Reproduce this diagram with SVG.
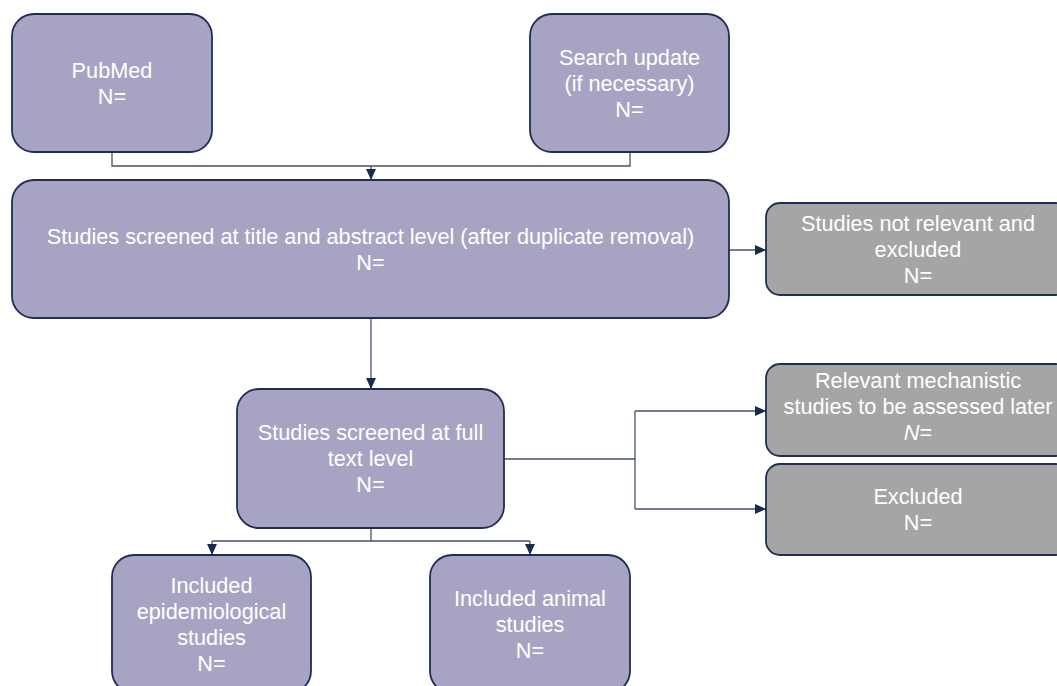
<svg xmlns="http://www.w3.org/2000/svg" width="1057" height="686" viewBox="0 0 1057 686">
<style>
.box{fill:#a7a4c3;stroke:#1f2e55;stroke-width:1.8}
.grey{fill:#a5a5a5;stroke:#1f2e55;stroke-width:1.8}
text{font-family:"Liberation Sans",Arial,sans-serif;font-size:21.7px;fill:#ffffff;text-anchor:middle}
.conn{fill:none;stroke:#44546a;stroke-width:1.3}
</style>
<defs>
<marker id="arr" markerUnits="userSpaceOnUse" markerWidth="11" markerHeight="11" viewBox="0 0 10 10" refX="10" refY="5" orient="auto">
<path d="M0,0.5 L10,5 L0,9.5 Z" fill="#1a2a4f"/>
</marker>
</defs>
<rect width="1057" height="686" fill="#ffffff"/>
<g id="connectors">
<polyline class="conn" points="112,152 112,166 630,166 630,152"/>
<line class="conn" x1="371" y1="166" x2="371" y2="180" marker-end="url(#arr)"/>
<line class="conn" x1="729" y1="250" x2="766" y2="250" marker-end="url(#arr)"/>
<line class="conn" x1="371" y1="318" x2="371" y2="389" marker-end="url(#arr)"/>
<polyline class="conn" points="504,459 635,459"/>
<polyline class="conn" points="635,411 635,509"/>
<line class="conn" x1="635" y1="411" x2="766" y2="411" marker-end="url(#arr)"/>
<line class="conn" x1="635" y1="509" x2="766" y2="509" marker-end="url(#arr)"/>
<polyline class="conn" points="371,528 371,541"/>
<polyline class="conn" points="212,541 530,541"/>
<line class="conn" x1="212" y1="541" x2="212" y2="555" marker-end="url(#arr)"/>
<line class="conn" x1="530" y1="541" x2="530" y2="555" marker-end="url(#arr)"/>
</g>
<g id="pubmed">
<rect class="box" x="12" y="14" width="200" height="138" rx="22"/>
<text x="112" y="78">PubMed</text>
<text x="112" y="104">N=</text>
</g>
<g id="search-update">
<rect class="box" x="530" y="14" width="199" height="138" rx="22"/>
<text x="629.5" y="65">Search update</text>
<text x="629.5" y="91">(if necessary)</text>
<text x="629.5" y="117">N=</text>
</g>
<g id="title-abstract">
<rect class="box" x="12" y="180" width="717" height="138" rx="22"/>
<text x="370.5" y="243.5">Studies screened at title and abstract level (after duplicate removal)</text>
<text x="370.5" y="269.5">N=</text>
</g>
<g id="not-relevant">
<rect class="grey" x="766" y="203" width="304" height="92" rx="14"/>
<text x="918" y="230.5">Studies not relevant and</text>
<text x="918" y="256.5">excluded</text>
<text x="918" y="282.5">N=</text>
</g>
<g id="full-text">
<rect class="box" x="237" y="389" width="267" height="139" rx="22"/>
<text x="370.5" y="440">Studies screened at full</text>
<text x="370.5" y="466">text level</text>
<text x="370.5" y="492">N=</text>
</g>
<g id="mechanistic">
<rect class="grey" x="766" y="364" width="304" height="92" rx="14"/>
<text x="918" y="388">Relevant mechanistic</text>
<text x="918" y="414">studies to be assessed later</text>
<text x="918" y="440"><tspan font-style="italic">N</tspan>=</text>
</g>
<g id="excluded">
<rect class="grey" x="766" y="464" width="304" height="91" rx="14"/>
<text x="918" y="503.5">Excluded</text>
<text x="918" y="529.5">N=</text>
</g>
<g id="epidemiological">
<rect class="box" x="112" y="555" width="199" height="138" rx="22"/>
<text x="211.5" y="593">Included</text>
<text x="211.5" y="619">epidemiological</text>
<text x="211.5" y="645">studies</text>
<text x="211.5" y="671">N=</text>
</g>
<g id="animal">
<rect class="box" x="430" y="555" width="200" height="138" rx="22"/>
<text x="530" y="606">Included animal</text>
<text x="530" y="632">studies</text>
<text x="530" y="658">N=</text>
</g>
</svg>
